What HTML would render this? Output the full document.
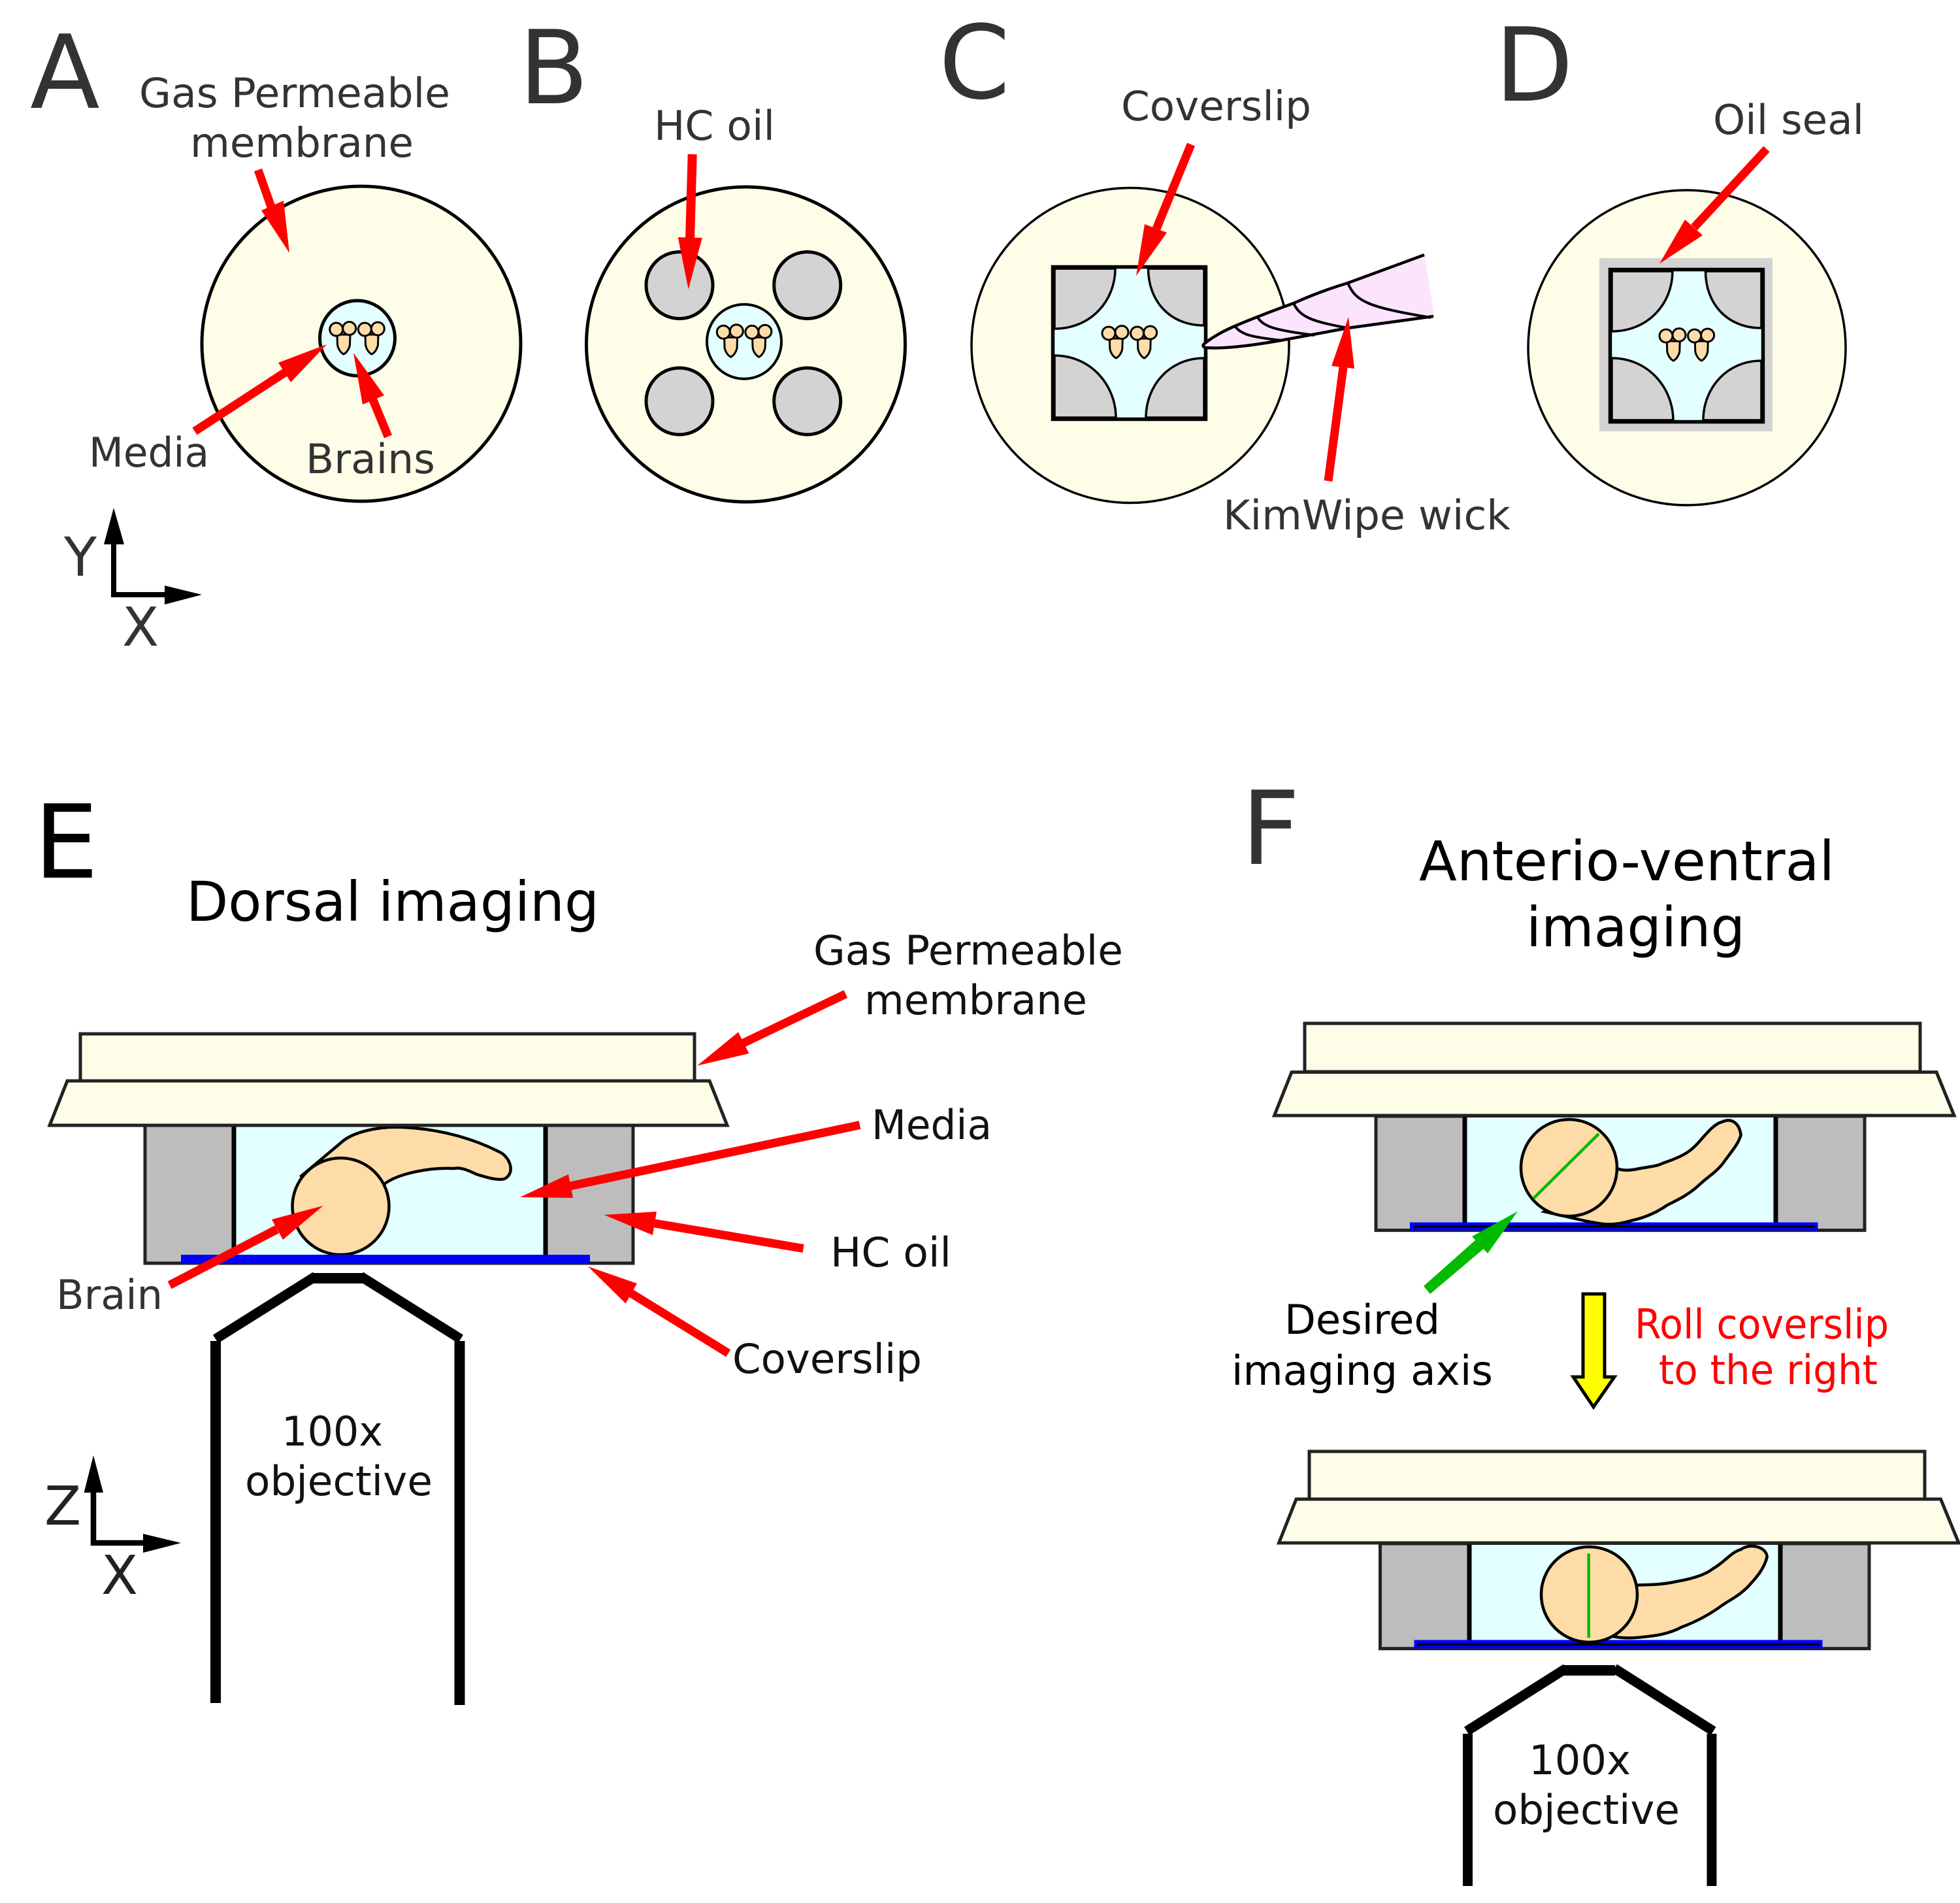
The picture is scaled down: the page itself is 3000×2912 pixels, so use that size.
<!DOCTYPE html>
<html><head><meta charset="utf-8"><title>Diagram</title>
<style>
html,body{margin:0;padding:0;background:#fff}
svg{display:block}
text{font-family:"DejaVu Sans","Liberation Sans",sans-serif;font-size:62px;fill:#333}
.k{fill:#111}
.big{font-size:156px}
.t{font-size:84px;fill:#000}
.ax{font-size:82px}
.br{fill:#fddca8;stroke:#000;stroke-width:3}
.cn{fill:#d3d3d3;stroke:#000;stroke-width:3.5}
.sec{stroke:#222;stroke-width:5}
</style></head><body>
<svg xmlns="http://www.w3.org/2000/svg" width="3000" height="2912" viewBox="0 0 3000 2912">
<rect width="3000" height="2912" fill="#fff"/>
<defs>
<g id="brains">
<path class="br" d="M516,512 L516.5,528 C518,535 522,540 526,542 C530,540 534,535 535.5,528 L536,512Z"/>
<path class="br" d="M559,512 L559.5,528 C561,535 565,540 569,542 C573,540 577,535 578.5,528 L579,512Z"/>
<circle class="br" cx="514.7" cy="504" r="10"/>
<circle class="br" cx="534.7" cy="502.5" r="10"/>
<circle class="br" cx="558.3" cy="504" r="10"/>
<circle class="br" cx="578.3" cy="503" r="10"/>
</g>
<g id="slip">
<rect x="1611.5" y="408.5" width="234" height="233" fill="#e3ffff"/>
<path class="cn" d="M1614,411 H1707 C1707,460 1670,503 1614,503Z"/>
<path class="cn" d="M1843,411 H1757.5 C1757.5,460 1790,498 1843,498Z"/>
<path class="cn" d="M1614,544 C1670,544 1708,590 1708,639 H1614Z"/>
<path class="cn" d="M1843,548 C1790,548 1754,590 1754,639 H1843Z"/>
<rect x="1611.5" y="408.5" width="234" height="233" fill="none" stroke="#000" stroke-width="5.5"/>
<use href="#brains" transform="translate(1182.3,6)"/>
</g>
</defs>

<!-- Panel A -->
<ellipse cx="553" cy="526" rx="244" ry="241" fill="#fefee8" stroke="#000" stroke-width="5"/>
<circle cx="547" cy="517.5" r="57.5" fill="#e3ffff" stroke="#000" stroke-width="5"/>
<use href="#brains"/>
<line x1="395" y1="260" x2="417" y2="322" stroke="#f00" stroke-width="13"/>
<polygon points="400,322 434,307 443,387" fill="#f00"/>
<line x1="298" y1="660" x2="436" y2="570" stroke="#f00" stroke-width="13"/>
<polygon points="426,555 445,585 500,527" fill="#f00"/>
<line x1="594" y1="668" x2="571" y2="612" stroke="#f00" stroke-width="13"/>
<polygon points="555,619 588,605 541,540" fill="#f00"/>
<text class="big" x="46" y="165">A</text>
<text x="213" y="164" textLength="476" lengthAdjust="spacingAndGlyphs">Gas Permeable</text>
<text x="291" y="240" textLength="342" lengthAdjust="spacingAndGlyphs">membrane</text>
<text x="136" y="714" textLength="184" lengthAdjust="spacingAndGlyphs">Media</text>
<text x="468" y="724" textLength="198" lengthAdjust="spacingAndGlyphs">Brains</text>
<line x1="174" y1="914" x2="174" y2="830" stroke="#000" stroke-width="8"/>
<polygon points="174,777 159,833 190,833" fill="#000"/>
<line x1="170" y1="910" x2="254" y2="910" stroke="#000" stroke-width="8"/>
<polygon points="309,910 252,896 252,925" fill="#000"/>
<text class="ax" x="98" y="881">Y</text>
<text class="ax" x="187" y="988">X</text>

<!-- Panel B -->
<ellipse cx="1141.5" cy="527" rx="244" ry="241" fill="#fefee8" stroke="#000" stroke-width="5"/>
<circle cx="1040" cy="436.5" r="51" fill="#d3d3d3" stroke="#000" stroke-width="5"/>
<circle cx="1235.7" cy="436.5" r="51" fill="#d3d3d3" stroke="#000" stroke-width="5"/>
<circle cx="1040" cy="614" r="51" fill="#d3d3d3" stroke="#000" stroke-width="5"/>
<circle cx="1235.7" cy="614" r="51" fill="#d3d3d3" stroke="#000" stroke-width="5"/>
<circle cx="1139" cy="522.7" r="57" fill="#e3ffff" stroke="#000" stroke-width="4"/>
<use href="#brains" transform="translate(592.6,4.3)"/>
<line x1="1059.7" y1="236" x2="1056" y2="366" stroke="#f00" stroke-width="14"/>
<polygon points="1037.7,363 1074.7,364 1053.7,442.7" fill="#f00"/>
<text class="big" x="794" y="158">B</text>
<text x="1001" y="214" textLength="185" lengthAdjust="spacingAndGlyphs">HC oil</text>

<!-- Panel C -->
<ellipse cx="1730" cy="528.5" rx="243" ry="241" fill="#fefee8" stroke="#000" stroke-width="3.5"/>
<use href="#slip"/>
<path d="M1842,527 L1890,499 L1980,464 L2063,433 L2180,390 L2196,485 L2063,502 L1960,521 Q1870,535 1842,530Z" fill="#fce5fc"/>
<path d="M2180,390 L2063,433 Q2020,446 1980,464 Q1930,482 1890,499 Q1860,512 1842,527 Q1840,531 1846,532 Q1880,535 1960,521 L2063,502 L2194,484" fill="none" stroke="#000" stroke-width="4.5"/>
<path d="M2063,433 C2075,462 2095,470 2190,486 M1980,464 C1990,486 2010,492 2063,502 M1925,486 C1935,500 1950,505 2012,513 M1890,499 C1900,512 1915,516 1963,521" fill="none" stroke="#000" stroke-width="4"/>
<line x1="1823" y1="221" x2="1770" y2="350" stroke="#f00" stroke-width="13"/>
<polygon points="1752,343 1786,356 1739,422" fill="#f00"/>
<line x1="2033" y1="736" x2="2056" y2="562" stroke="#f00" stroke-width="13"/>
<polygon points="2038,560 2073,564 2064,485" fill="#f00"/>
<text class="big" x="1437" y="150">C</text>
<text x="1716" y="184" textLength="291" lengthAdjust="spacingAndGlyphs">Coverslip</text>
<text x="1872" y="810" textLength="440" lengthAdjust="spacingAndGlyphs">KimWipe wick</text>

<!-- Panel D -->
<ellipse cx="2582" cy="532" rx="243" ry="241" fill="#fefee8" stroke="#000" stroke-width="3.5"/>
<rect x="2448" y="395" width="265" height="265" fill="#d3d3d3"/>
<use href="#slip" transform="translate(853,4)"/>
<line x1="2704" y1="228" x2="2593" y2="348" stroke="#f00" stroke-width="13"/>
<polygon points="2579,336 2606,360 2540,403.5" fill="#f00"/>
<text class="big" x="2288" y="154">D</text>
<text x="2622" y="205" textLength="231" lengthAdjust="spacingAndGlyphs">Oil seal</text>

<!-- Panel E -->
<rect class="sec" x="222" y="1722" width="747" height="211" fill="#bdbdbd"/>
<rect x="358" y="1724" width="477" height="198" fill="#e3ffff"/>
<line x1="358" y1="1722" x2="358" y2="1934" stroke="#000" stroke-width="7"/>
<line x1="835" y1="1722" x2="835" y2="1934" stroke="#000" stroke-width="7"/>
<path d="M459.5,1801 L522.6,1748 C540,1732 580,1723 617,1725 C680,1728 730,1745 765,1763 C780,1770 790,1795 772,1804 C760,1807 740,1800 729.6,1797 C715,1790 705,1786 694.5,1788 C660,1786 610,1795 588,1812 Z" fill="#fddca8"/>
<path d="M459.5,1801 L522.6,1748 C540,1732 580,1723 617,1725 C680,1728 730,1745 765,1763 C780,1770 790,1795 772,1804 C760,1807 740,1800 729.6,1797 C715,1790 705,1786 694.5,1788 C660,1786 610,1795 588,1812" fill="none" stroke="#000" stroke-width="4.5"/>
<ellipse cx="521.5" cy="1846" rx="74" ry="74" fill="#fddca8" stroke="#000" stroke-width="4.5"/>
<rect x="277" y="1920" width="626" height="14" fill="#00f"/>
<rect class="sec" x="123" y="1582" width="940" height="73" fill="#fefee8"/>
<polygon class="sec" points="103,1654 1086,1654 1113,1722 76,1722" fill="#fefee8"/>
<polygon points="256.6,1960.7 262.6,1972.3 427,1887 421,1875" fill="#f00"/>
<polygon points="416,1866 433,1897 494.6,1845" fill="#f00"/>
<line x1="1316" y1="1721.5" x2="872" y2="1815" stroke="#f00" stroke-width="13"/>
<polygon points="870,1797 877,1833 796,1832" fill="#f00"/>
<line x1="1229.6" y1="1910.5" x2="1002" y2="1872" stroke="#f00" stroke-width="13"/>
<polygon points="1005,1854 999,1890 924.6,1859" fill="#f00"/>
<line x1="1114.8" y1="2070.8" x2="966" y2="1979" stroke="#f00" stroke-width="13"/>
<polygon points="975,1964 957.6,1994.6 900,1938" fill="#f00"/>
<line x1="1294.4" y1="1521" x2="1138" y2="1596" stroke="#f00" stroke-width="13"/>
<polygon points="1130,1579.4 1146.4,1612 1067.3,1630.6" fill="#f00"/>
<g fill="none" stroke="#000">
<path d="M477,1956 H556" stroke-width="16"/>
<path d="M330,2049 L483,1953" stroke-width="15"/>
<path d="M552,1953 L705,2049" stroke-width="15"/>
<path d="M330,2052 V2606" stroke-width="16"/>
<path d="M703.5,2052 V2609" stroke-width="16"/>
</g>
<text class="big" x="52" y="1343" style="fill:#000">E</text>
<text class="t" x="285" y="1409" textLength="632" lengthAdjust="spacingAndGlyphs">Dorsal imaging</text>
<text class="k" x="1245" y="1476" textLength="474" lengthAdjust="spacingAndGlyphs">Gas Permeable</text>
<text class="k" x="1323" y="1552" textLength="341" lengthAdjust="spacingAndGlyphs">membrane</text>
<text class="k" x="1334" y="1743" textLength="184" lengthAdjust="spacingAndGlyphs">Media</text>
<text class="k" x="1271" y="1938" textLength="185" lengthAdjust="spacingAndGlyphs">HC oil</text>
<text class="k" x="1121" y="2101" textLength="290" lengthAdjust="spacingAndGlyphs">Coverslip</text>
<text x="86" y="2003" textLength="163" lengthAdjust="spacingAndGlyphs">Brain</text>
<text class="k" x="431" y="2212" textLength="155" lengthAdjust="spacingAndGlyphs">100x</text>
<text class="k" x="375" y="2288" textLength="287" lengthAdjust="spacingAndGlyphs">objective</text>
<line x1="143" y1="2365" x2="143" y2="2282" stroke="#000" stroke-width="8.5"/>
<polygon points="143,2227 128.6,2284 158,2284" fill="#000"/>
<line x1="139" y1="2361" x2="221" y2="2361" stroke="#000" stroke-width="8.5"/>
<polygon points="277,2361 219,2347 219,2376" fill="#000"/>
<text class="ax" style="fill:#222" x="68" y="2333">Z</text>
<text class="ax" style="fill:#222" x="155" y="2439">X</text>

<!-- Panel F top -->
<text class="big" x="1900" y="1322">F</text>
<text class="t" x="2172" y="1347" textLength="636" lengthAdjust="spacingAndGlyphs">Anterio-ventral</text>
<text class="t" x="2336" y="1448" textLength="335" lengthAdjust="spacingAndGlyphs">imaging</text>
<rect class="sec" x="2106" y="1708" width="748" height="174.6" fill="#bdbdbd"/>
<rect x="2242" y="1710" width="476" height="162" fill="#e3ffff"/>
<line x1="2242" y1="1708" x2="2242" y2="1872" stroke="#000" stroke-width="7"/>
<line x1="2718" y1="1708" x2="2718" y2="1872" stroke="#000" stroke-width="7"/>
<rect x="2158" y="1870.5" width="624.5" height="12.5" fill="#00f"/>
<rect x="2163" y="1875" width="615" height="3.5" fill="#000"/>
<path d="M2475,1788 C2485,1792 2496,1791 2510,1788 C2525,1785 2535,1785 2545,1780 C2565,1773 2580,1767 2591,1757 C2605,1745 2620,1720 2636.6,1716.5 C2648,1711 2662,1716 2664.6,1737 C2660,1752 2650,1762 2636.6,1781 C2625,1795 2615,1800 2601.5,1812.5 C2585,1828 2570,1835 2552,1844 C2535,1856 2515,1864 2496,1868 C2480,1873 2465,1874 2454,1873 C2430,1870 2400,1862 2364,1854 Z" fill="#fddca8" stroke="#000" stroke-width="4.5"/>
<ellipse cx="2401.5" cy="1787" rx="73.5" ry="74" fill="#fddca8" stroke="#000" stroke-width="4.5"/>
<line x1="2447" y1="1735" x2="2347" y2="1834" stroke="#00bb00" stroke-width="4.5"/>
<rect class="sec" x="1997" y="1566" width="942" height="74" fill="#fefee8"/>
<polygon class="sec" points="1977,1640.6 2964,1640.6 2991,1707 1950.5,1707" fill="#fefee8"/>
<polygon points="2179,1968 2189,1980 2272,1910 2259,1897" fill="#00bb00"/>
<polygon points="2253,1892 2277,1918 2323,1853.6" fill="#00bb00"/>
<polygon points="2423,1980 2456,1980 2456,2107 2471,2107 2439,2153 2408,2107 2423,2107" fill="#ff0" stroke="#000" stroke-width="5"/>
<text style="fill:#000" x="1966" y="2041" textLength="238" lengthAdjust="spacingAndGlyphs">Desired</text>
<text style="fill:#000" x="1885" y="2119" textLength="400" lengthAdjust="spacingAndGlyphs">imaging axis</text>
<text style="fill:#f00" x="2502" y="2048" textLength="389" lengthAdjust="spacingAndGlyphs">Roll coverslip</text>
<text style="fill:#f00" x="2539" y="2118" textLength="335" lengthAdjust="spacingAndGlyphs">to the right</text>

<!-- Panel F bottom -->
<rect class="sec" x="2112.5" y="2362" width="748.5" height="160.7" fill="#bdbdbd"/>
<rect x="2249" y="2364" width="476" height="146" fill="#e3ffff"/>
<line x1="2249" y1="2362" x2="2249" y2="2511" stroke="#000" stroke-width="7"/>
<line x1="2725" y1="2362" x2="2725" y2="2511" stroke="#000" stroke-width="7"/>
<rect x="2164.5" y="2509.5" width="625" height="13" fill="#00f"/>
<rect x="2169" y="2514.5" width="616" height="3.5" fill="#000"/>
<path d="M2505,2425.5 C2525,2425 2545,2425 2566,2420 C2590,2416 2610,2410 2622.5,2400 C2640,2390 2650,2375 2664.6,2371 C2680,2360 2705,2368 2704.6,2383 C2700,2400 2690,2412 2678.7,2424.5 C2665,2440 2650,2447 2636.6,2456 C2615,2472 2595,2482 2573.5,2490 C2555,2500 2535,2503 2517,2504.7 C2500,2507 2485,2507 2471.7,2504.7 Z" fill="#fddca8" stroke="#000" stroke-width="4.5"/>
<ellipse cx="2432.5" cy="2440" rx="73.5" ry="73" fill="#fddca8" stroke="#000" stroke-width="4.5"/>
<line x1="2431.7" y1="2377.4" x2="2431.7" y2="2506" stroke="#00bb00" stroke-width="4.5"/>
<rect class="sec" x="2004" y="2221" width="942" height="73" fill="#fefee8"/>
<polygon class="sec" points="1984,2294 2970.5,2294 2998,2361 1957.5,2361" fill="#fefee8"/>
<g fill="none" stroke="#000">
<path d="M2391,2556 H2472" stroke-width="16"/>
<path d="M2245,2649 L2397,2553" stroke-width="15"/>
<path d="M2471,2553 L2622.5,2649" stroke-width="15"/>
<path d="M2246.5,2653 V2886" stroke-width="15"/>
<path d="M2620,2653 V2886" stroke-width="15"/>
</g>
<text class="k" x="2340" y="2715" textLength="156" lengthAdjust="spacingAndGlyphs">100x</text>
<text class="k" x="2285" y="2791" textLength="286" lengthAdjust="spacingAndGlyphs">objective</text>
</svg>
</body></html>
